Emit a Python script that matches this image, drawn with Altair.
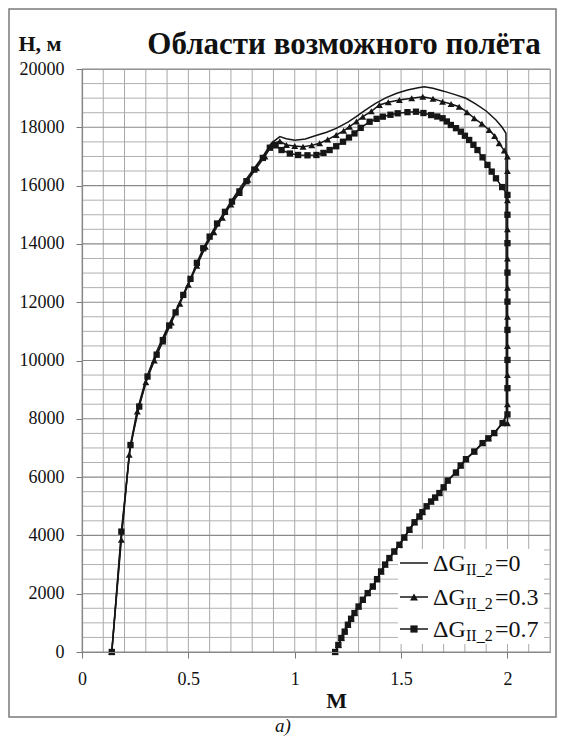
import altair as alt
import pandas as pd

FONT = "Liberation Serif, Times New Roman, Tinos, DejaVu Serif, serif"

# ---- data ----
# Series ΔG=0 (solid line, no markers)
M_0 = [0.14, 0.185, 0.225, 0.26, 0.30, 0.35, 0.40, 0.45, 0.50, 0.55, 0.60, 0.65, 0.70, 0.75, 0.80, 0.85, 0.89,
       0.93, 0.96, 1.00, 1.05, 1.10, 1.15, 1.195, 1.25, 1.289, 1.33, 1.38, 1.43, 1.48, 1.53, 1.58, 1.609, 1.65,
       1.70, 1.75, 1.805, 1.85, 1.90, 1.946, 1.975, 1.993, 1.995]
H_0 = [0, 4000, 7000, 8300, 9350, 10300, 11100, 11850, 12650, 13450, 14200, 14850, 15450, 16000, 16500, 17000, 17450,
       17680, 17610, 17560, 17600, 17720, 17830, 17965, 18180, 18365, 18580, 18820, 19020, 19170, 19280, 19360, 19393, 19340,
       19240, 19130, 18995, 18800, 18560, 18250, 18000, 17795, 8150]

# Series ΔG=0.3 (triangles)
M_3 = [0.14, 0.185, 0.222, 0.26, 0.30, 0.34, 0.38, 0.42, 0.46, 0.50, 0.54, 0.58, 0.62, 0.66, 0.70, 0.74, 0.78, 0.82,
       0.86, 0.898, 0.93, 0.961, 1.00, 1.039, 1.08, 1.117, 1.155, 1.195, 1.23, 1.258, 1.29, 1.32, 1.36, 1.398, 1.44,
       1.492, 1.55, 1.602, 1.65, 1.695, 1.735, 1.773, 1.81, 1.844, 1.88, 1.914, 1.94, 1.961, 1.985, 2.0,
       2.0, 2.0, 2.0, 2.0, 2.0, 2.0, 2.0, 2.0, 2.0, 2.0]
H_3 = [0, 3850, 6770, 8250, 9250, 10000, 10650, 11300, 11950, 12600, 13250, 13900, 14400, 14900, 15350, 15750, 16200, 16600,
       17000, 17450, 17520, 17395, 17360, 17335, 17380, 17450, 17580, 17735, 17880, 18020, 18200, 18365, 18550, 18765, 18860,
       18937, 19000, 19050, 18980, 18880, 18800, 18707, 18520, 18310, 18120, 17910, 17700, 17450, 17200, 16995,
       16500, 15500, 14500, 13500, 12500, 11500, 10500, 9500, 8500, 7850]

# Series ΔG=0.7 (squares)
M_7 = [0.14, 0.185, 0.228, 0.269, 0.308, 0.351, 0.38, 0.41, 0.44, 0.476, 0.51, 0.54, 0.57, 0.60, 0.635, 0.672, 0.705,
       0.74, 0.773, 0.81, 0.85, 0.883, 0.91, 0.938, 0.977, 1.016, 1.06, 1.102, 1.135, 1.164, 1.195, 1.227, 1.255, 1.281,
       1.31, 1.352, 1.385, 1.414, 1.45, 1.484, 1.53, 1.57, 1.605, 1.641, 1.67, 1.695, 1.715, 1.734, 1.758, 1.781, 1.80,
       1.82, 1.84, 1.859, 1.883, 1.906, 1.926, 1.946, 1.975, 2.0, 2.0, 2.0, 2.0, 2.0, 2.0, 2.0, 2.0, 2.0]
H_7 = [0, 4130, 7100, 8420, 9450, 10200, 10700, 11200, 11650, 12250, 12800, 13350, 13850, 14250, 14700, 15100, 15450,
       15800, 16150, 16550, 16950, 17300, 17380, 17220, 17100, 17050, 17040, 17050, 17120, 17220, 17350, 17505, 17650, 17790,
       17980, 18190, 18290, 18365, 18430, 18480, 18520, 18535, 18490, 18420, 18370, 18310, 18200, 18080, 17970, 17850, 17710,
       17565, 17400, 17220, 16970, 16710, 16480, 16250, 15950, 15680, 15000, 14025, 13015, 12020, 11050, 10020, 9050, 8150]

# Shared lower boundary (from M=2 down to H=0)
M_LOW = [1.977, 1.938, 1.91, 1.883, 1.844, 1.805, 1.78, 1.758, 1.719, 1.70, 1.68, 1.66, 1.641, 1.62, 1.60, 1.586, 1.563,
         1.539, 1.515, 1.492, 1.468, 1.445, 1.425, 1.406, 1.387, 1.367, 1.343, 1.32, 1.30, 1.281, 1.265, 1.25, 1.235,
         1.219, 1.205, 1.19]
H_LOW = [7852, 7510, 7330, 7166, 6878, 6616, 6400, 6157, 5883, 5650, 5452, 5300, 5164, 5000, 4800, 4650, 4450,
         4193, 3930, 3679, 3450, 3223, 3000, 2764, 2500, 2249, 2020, 1793, 1560, 1337, 1140, 936, 700,
         480, 240, 0]

SERIES = ["ΔG=0", "ΔG=0.3", "ΔG=0.7"]
LEGEND_EQ = ["=0", "=0.3", "=0.7"]

X_TICKS = [0, 0.5, 1, 1.5, 2]
X_GRID = [0.0, 0.1, 0.2, 0.3, 0.4, 0.5, 0.6, 0.7, 0.8, 0.9, 1.0, 1.1, 1.2, 1.3, 1.4, 1.5, 1.6, 1.7, 1.8, 1.9,
          2.0, 2.1, 2.2]
Y_TICKS = [0, 2000, 4000, 6000, 8000, 10000, 12000, 14000, 16000, 18000, 20000]
Y_GRID = [500, 1000, 1500, 2500, 3000, 3500, 4500, 5000, 5500, 6500, 7000, 7500, 8500,
          9000, 9500, 10500, 11000, 11500, 12500, 13000, 13500, 14500, 15000, 15500,
          16500, 17000, 17500, 18500, 19000, 19500]

rows = []
for name, ms, hs in [(SERIES[0], M_0, H_0), (SERIES[1], M_3, H_3), (SERIES[2], M_7, H_7)]:
    allm = ms + M_LOW
    allh = hs + H_LOW
    for i, (m, h) in enumerate(zip(allm, allh)):
        rows.append({"M": m, "H": h, "s": name, "i": i})
df = pd.DataFrame(rows)

W, H = 468, 583
INK = "#161616"

xaxis = alt.Axis(
    values=X_TICKS, format="~g", title="M", titleFont=FONT, titleFontSize=22, titleFontWeight="bold", titleColor="#111",
    titleX=254, titleY=48, titleBaseline="middle", titleAnchor="start", titleAlign="center",
    labelFont=FONT, labelFontSize=18, labelColor="#111", labelPadding=12, labelOverlap=False, labelFlush=False,
    tickSize=6, tickColor="#777", grid=False, domainColor="#888", domainWidth=1.2, zindex=1,
)
yaxis = alt.Axis(
    values=Y_TICKS, format="d", title="H, м", titleFont=FONT, titleFontSize=22, titleFontWeight="bold",
    titleColor="#111", titleAngle=0, titleX=-64, titleY=-19, titleAlign="left", titleBaseline="alphabetic",
    titleAnchor="start",
    labelFont=FONT, labelFontSize=18, labelColor="#111", labelPadding=12, labelOverlap=False, labelFlush=False,
    tickSize=6, tickColor="#777", grid=False, domainColor="#888", domainWidth=1.2, zindex=1,
)
xs = alt.Scale(domain=[0, 2.2], nice=False, zero=False)
ys = alt.Scale(domain=[0, 20000], nice=False)

one = alt.Data(values=[{"k": 0}])

vgrid = alt.Chart(pd.DataFrame({"M": X_GRID})).mark_rule(color="#a8a8a8", strokeWidth=1).encode(
    x=alt.X("M:Q", scale=xs, axis=xaxis)
)
hgrid = alt.Chart(pd.DataFrame({"H": Y_GRID})).mark_rule(color="#b0b0b0", strokeWidth=1).encode(
    y=alt.Y("H:Q", scale=ys, axis=yaxis)
)
hgrid_major = alt.Chart(pd.DataFrame({"H": Y_TICKS})).mark_rule(color="#8a8a8a", strokeWidth=1.1).encode(
    y=alt.Y("H:Q", scale=ys, axis=yaxis)
)

lines = alt.Chart(df).mark_line(color=INK, strokeWidth=1.5).encode(
    x=alt.X("M:Q", scale=xs, axis=xaxis), y=alt.Y("H:Q", scale=ys, axis=yaxis), detail="s:N", order="i:Q"
)
tri = alt.Chart(df).transform_filter(alt.datum.s == SERIES[1]).mark_point(
    shape="triangle-up", filled=True, color=INK, size=48, opacity=1
).encode(x=alt.X("M:Q", scale=xs, axis=xaxis), y=alt.Y("H:Q", scale=ys, axis=yaxis))
sq = alt.Chart(df).transform_filter(alt.datum.s == SERIES[2]).mark_point(
    shape="square", filled=True, color=INK, size=40, opacity=1
).encode(x=alt.X("M:Q", scale=xs, axis=xaxis), y=alt.Y("H:Q", scale=ys, axis=yaxis))

frame = alt.Chart(one).mark_rect(fill=None, stroke="#7a7a7a", strokeWidth=1.5).encode(
    x=alt.value(-73), x2=alt.value(474), y=alt.value(-60), y2=alt.value(648)
)
legend_box = alt.Chart(one).mark_rect(fill="white", stroke=None).encode(
    x=alt.value(316), x2=alt.value(462), y=alt.value(480), y2=alt.value(575)
)
title = alt.Chart(one).mark_text(
    text="Области возможного полёта", font=FONT, fontSize=31, fontWeight="bold", color="#111",
    align="center", baseline="alphabetic"
).encode(x=alt.value(262), y=alt.value(-15))
caption = alt.Chart(one).mark_text(
    text="a)", font=FONT, fontSize=19, fontStyle="italic", color="#111", align="center", baseline="middle"
).encode(x=alt.value(201), y=alt.value(657))

legend_layers = []
row_y = [494, 528, 560]
shapes = [None, "triangle-up", "square"]
for k in range(3):
    yy = row_y[k]
    legend_layers.append(alt.Chart(one).mark_rule(color=INK, strokeWidth=1.5).encode(
        x=alt.value(318), x2=alt.value(346), y=alt.value(yy)))
    if shapes[k]:
        legend_layers.append(alt.Chart(one).mark_point(
            shape=shapes[k], filled=True, color=INK, size=64 if k == 1 else 52, opacity=1
        ).encode(x=alt.value(332), y=alt.value(yy)))
    legend_layers.append(alt.Chart(one).mark_text(
        text="ΔG", font=FONT, fontSize=24, color="#111", align="left", baseline="alphabetic"
    ).encode(x=alt.value(351), y=alt.value(yy + 8)))
    legend_layers.append(alt.Chart(one).mark_text(
        text="II_2", font=FONT, fontSize=16, color="#111", align="left", baseline="alphabetic"
    ).encode(x=alt.value(384), y=alt.value(yy + 12)))
    legend_layers.append(alt.Chart(one).mark_text(
        text=LEGEND_EQ[k], font=FONT, fontSize=24, color="#111", align="left", baseline="alphabetic"
    ).encode(x=alt.value(413), y=alt.value(yy + 8)))

chart = alt.layer(
    vgrid, hgrid, hgrid_major, legend_box, lines, tri, sq, frame, title, caption, *legend_layers
).properties(
    width=W, height=H,
    autosize=alt.AutoSizeParams(type="none"),
    padding={"left": 74, "top": 61, "right": 7, "bottom": 86},
    background="white",
).configure_view(stroke="#999", strokeWidth=1)

chart.save("out.html", embed_options={"renderer": "svg", "actions": False})
